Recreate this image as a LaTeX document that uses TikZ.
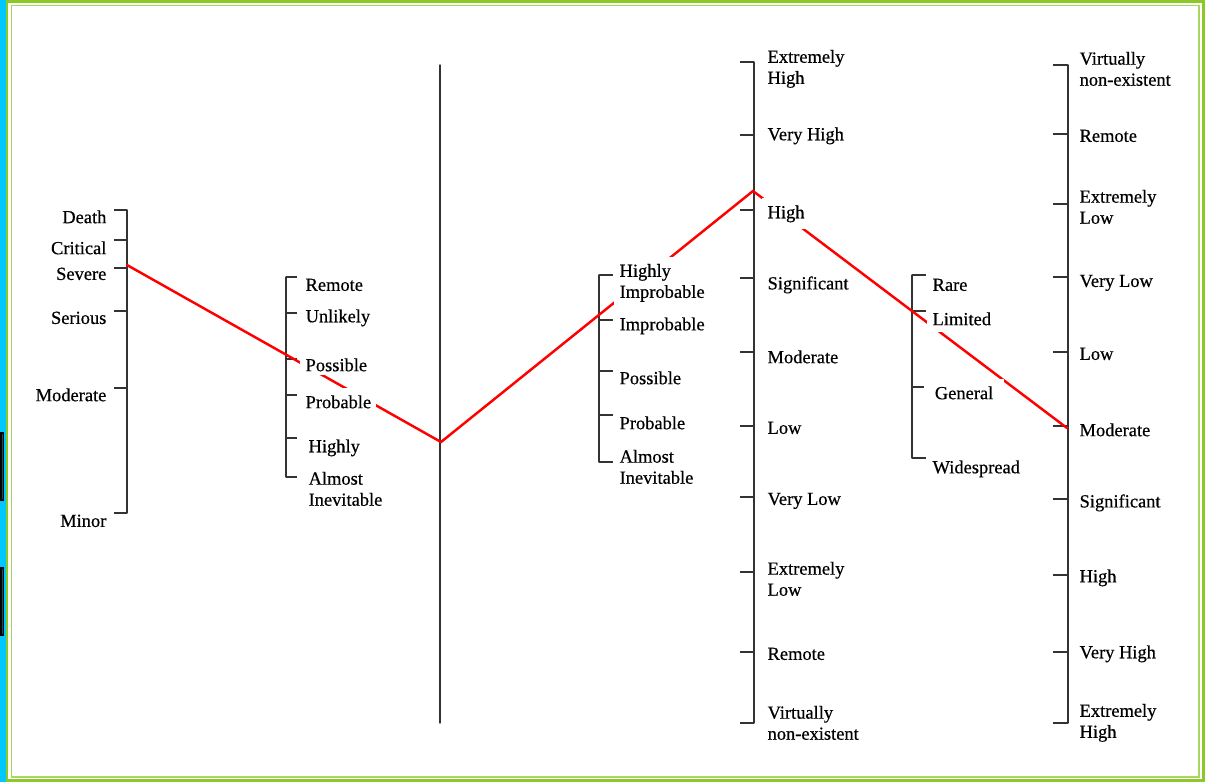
\documentclass[tikz,border=0pt]{standalone}
\usepackage{tkz-euclide}
\usetikzlibrary{calc}
\usepackage{fontspec}
\setmainfont{Liberation Serif}
\newfontfamily\lblfont[FakeBold=0.5]{Liberation Serif}

\definecolor{frameGreen}{RGB}{140,200,40}
\definecolor{frameCyan}{RGB}{0,200,255}

\tikzset{
  ruler/.style={line width=0.8pt, black!80},
  redline/.style={line width=1.4pt, red, line join=miter},
  lbl/.style={fill=white, inner xsep=3pt, inner ysep=4pt, align=left, yshift=-0.5pt,
    font=\lblfont\fontsize{10.5}{12}\selectfont},
}

\begin{document}
\begin{tikzpicture}[x=0.02cm,y=-0.02cm]
    \useasboundingbox (0,0) rectangle (1205,782);
    % frame
    \fill[white] (0,0) rectangle (1205,782);
    \fill[frameCyan] (0,0) rectangle (6,782);
    \draw[frameGreen, line width=1.7pt] (7,1.5) rectangle (1203,780.5);
    \draw[frameGreen!75, line width=0.8pt] (11.5,5.5) rectangle (1199,777);
    \draw[black, line width=1pt, fill=frameCyan!45!black] (0.8,433) rectangle (3.6,500);
    \draw[black, line width=1pt, fill=frameCyan!45!black] (0.8,568) rectangle (3.6,635);

    % spines
    \tkzDefPoint(127,210){a_1}
    \tkzDefPoint(127,513){a_2}
    \tkzDefPoint(286,277){b_1}
    \tkzDefPoint(286,477){b_2}
    \tkzDefPoint(440,65){c_1}
    \tkzDefPoint(440,723){c_2}
    \tkzDefPoint(599,275){d_1}
    \tkzDefPoint(599,462){d_2}
    \tkzDefPoint(754,62){e_1}
    \tkzDefPoint(754,723){e_2}
    \tkzDefPoint(912,275){f_1}
    \tkzDefPoint(912,458){f_2}
    \tkzDefPoint(1068,65){g_1}
    \tkzDefPoint(1068,723){g_2}
    \tkzDrawSegments[ruler](a_1,a_2 b_1,b_2 c_1,c_2 d_1,d_2 e_1,e_2 f_1,f_2 g_1,g_2)

    % ticks
    \foreach \y in {210,240,268,311,388,513} \draw[ruler] (114,\y) -- (127,\y);
    \foreach \y in {277,313,359,395,438,477} \draw[ruler] (286,\y) -- (297,\y);
    \foreach \y in {275,320,371,415,462} \draw[ruler] (599,\y) -- (613,\y);
    \foreach \y in {62,135,210,278,352,426,497,572,652,723} \draw[ruler] (740,\y) -- (754,\y);
    \foreach \y in {275,311,387,458} \draw[ruler] (912,\y) -- (926,\y);
    \foreach \y in {65,134,204,277,352,426,499,575,652,723} \draw[ruler] (1053,\y) -- (1068,\y);

    % red line
    \tkzDefPoint(127,265){p_1}
    \tkzDefPoint(441,442){p_2}
    \tkzDefPoint(753,191){p_3}
    \tkzDefPoint(1067,428){p_4}
    \tkzDrawPolySeg[redline](p_1,p_2,p_3,p_4)

    % severity
    \node[lbl, anchor=east, align=right] (sev_death) at (112,216) {Death};
    \node[lbl, anchor=east, align=right] (sev_crit) at (112,247) {Critical};
    \node[lbl, anchor=east, align=right] (sev_severe) at (112,273) {Severe};
    \node[lbl, anchor=east, align=right] (sev_serious) at (112,317) {Serious};
    \node[lbl, anchor=east, align=right] (sev_mod) at (112,394) {Moderate};
    \node[lbl, anchor=east, align=right] (sev_minor) at (112,520) {Minor};

    % first likelihood
    \node[lbl, anchor=west] (lik_remote) at (300,284) {Remote};
    \node[lbl, anchor=west] (lik_unlikely) at (300,317) {Unlikely};
    \node[lbl, anchor=west, inner ysep=2pt] (lik_possible) at (300,364) {Possible};
    \node[lbl, anchor=west] (lik_probable) at (300,401) {Probable};
    \node[lbl, anchor=west] (lik_highly) at (303,447) {Highly};
    \node[lbl, anchor=west] (lik_almost) at (303,488) {Almost\\Inevitable};

    % second likelihood
    \node[lbl, anchor=west] (occ_himp) at (614,282) {Highly\\Improbable};
    \node[lbl, anchor=west] (occ_imp) at (614,325) {Improbable};
    \node[lbl, anchor=west] (occ_possible) at (614,377) {Possible};
    \node[lbl, anchor=west] (occ_probable) at (614,422) {Probable};
    \node[lbl, anchor=west] (occ_almost) at (614,466) {Almost\\Inevitable};

    % risk
    \node[lbl, anchor=west] (risk_exhigh) at (762,68) {Extremely\\High};
    \node[lbl, anchor=west] (risk_vhigh) at (762,135) {Very High};
    \node[lbl, anchor=west] (risk_high) at (762,213) {High};
    \node[lbl, anchor=west] (risk_sig) at (762,284) {Significant};
    \node[lbl, anchor=west] (risk_mod) at (762,356) {Moderate};
    \node[lbl, anchor=west] (risk_low) at (762,427) {Low};
    \node[lbl, anchor=west] (risk_vlow) at (762,500) {Very Low};
    \node[lbl, anchor=west] (risk_exlow) at (762,578) {Extremely\\Low};
    \node[lbl, anchor=west] (risk_remote) at (762,653) {Remote};
    \node[lbl, anchor=west] (risk_virt) at (762,722) {Virtually\\non-existent};

    % extent
    \node[lbl, anchor=west] (ext_rare) at (927,284) {Rare};
    \node[lbl, anchor=west] (ext_limited) at (927,318) {Limited};
    \node[lbl, anchor=west, inner xsep=6pt] (ext_general) at (924,392) {General};
    \node[lbl, anchor=west] (ext_wide) at (927,468) {Widespread};

    % final scale
    \node[lbl, anchor=west] (fin_virt) at (1074,68) {Virtually\\non-existent};
    \node[lbl, anchor=west] (fin_remote) at (1074,135) {Remote};
    \node[lbl, anchor=west] (fin_exlow) at (1074,206) {Extremely\\Low};
    \node[lbl, anchor=west] (fin_vlow) at (1074,282) {Very Low};
    \node[lbl, anchor=west] (fin_low) at (1074,353) {Low};
    \node[lbl, anchor=west] (fin_mod) at (1074,429) {Moderate};
    \node[lbl, anchor=west] (fin_sig) at (1074,502) {Significant};
    \node[lbl, anchor=west] (fin_high) at (1074,577) {High};
    \node[lbl, anchor=west] (fin_vhigh) at (1074,653) {Very High};
    \node[lbl, anchor=west] (fin_exhigh) at (1074,722) {Extremely\\High};
\end{tikzpicture}
\end{document}
